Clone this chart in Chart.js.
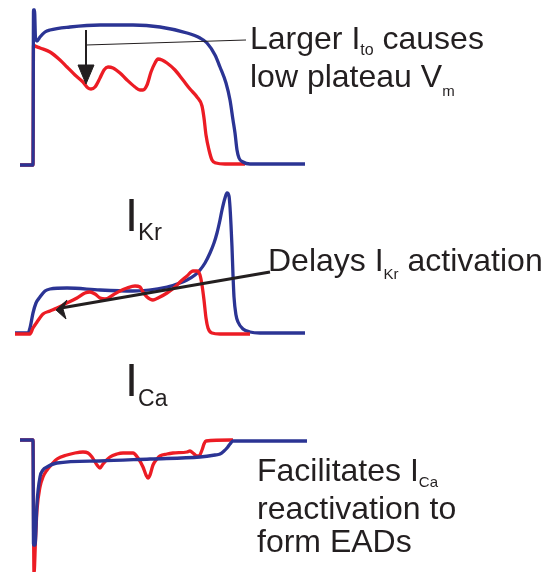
<!DOCTYPE html>
<html>
<head>
<meta charset="utf-8">
<script src="https://cdn.jsdelivr.net/npm/chart.js@4/dist/chart.umd.min.js"></script>
<style>
  body { margin: 0; background: #fff; }
  #wrap { position: relative; width: 560px; height: 572px; overflow: hidden; }
  #fig { position: absolute; left: 0; top: 0; }
  .txt { position: absolute; color: #231f20; font-family: "Liberation Sans", Arial, sans-serif; white-space: nowrap; }
  .sub { position: relative; }
</style>
</head>
<body>
<div id="wrap">
  <canvas id="fig" width="560" height="572"></canvas>
  <div class="txt" style="left:250px; top:22px; font-size:32px; line-height:33px;">Larger I<span class="sub" style="font-size:16px; top:6px;">to</span> causes<br>low plateau V<span class="sub" style="font-size:15px; top:9px;">m</span></div>
  <div class="txt" style="left:125px; top:191px; font-size:47px; line-height:47px;">I<span class="sub" style="font-size:24px; top:9px;">Kr</span></div>
  <div class="txt" style="left:268px; top:244px; font-size:32px; line-height:33px;">Delays I<span class="sub" style="font-size:15px; top:8px;">Kr</span> activation</div>
  <div class="txt" style="left:125px; top:356px; font-size:47px; line-height:47px;">I<span class="sub" style="font-size:23px; top:10px;">Ca</span></div>
  <div class="txt" style="left:257px; top:454px; font-size:32px; line-height:33px;">Facilitates I<span class="sub" style="font-size:15px; top:6px;">Ca</span><br>reactivation to<br>form EADs</div>
</div>
<script>
/*
Traces: time (arbitrary units) and height above each panel's resting line
*/
const apTimeCtl = [20,33,33.5,34.5,35.5,37,40,45,50,70,100,133,160,187,200,207,215,220,226,230,233,235,237,239,243,250,305];
const apCtl     = [0,0,155,155,127,124,128,133,135,138,140,140,138,132,127,122,110,98,82,65,45,32,15,7,3,1,1];
const apTimeMut = [20,33,33.5,35,40,50,60,67,75,83,88,91,95,100,104,108,113,120,127,135,140,143,147,151,155,158,162,167,175,183,190,197,202,204,206,209,212,216,225,245];
const apMut     = [0,0,120,119,117,113,105,98,90,83,77,76,78,87,95,98,97,92,85,78,75,75,80,93,102,106,105,102,95,85,76,68,59,47,30,15,5,2,1,1];

const ikrTimeCtl = [15,28,30,33,36,40,45,50,67,100,133,167,180,187,195,200,205,210,214,217,220,222,225,227,229,230,231,232,233,234,236,238,243,250,260,305];
const ikrCtl     = [1,1,6,21,31,37,43,45,46,44,43,47,51,54,59,64,71,81,91,101,114,124,136,141,138,127,109,87,59,37,19,12,5,2,1,1];
const ikrTimeMut = [15,30,33,37,43,50,57,65,77,85,90,95,100,105,113,120,127,135,140,143,147,153,158,167,175,180,187,193,197,200,202,204,206,208,212,220,250];
const ikrMut     = [0,0,6,12,20,23,26,30,36,41,42,40,36,35,39,43,46,48,47,42,37,34,36,41,47,52,58,63,63,59,49,34,16,6,1,0,0];

const icaTimeCtl = [20,33,33.5,35,37,40,43,47,57,100,150,200,215,220,224,227,230,233,307];
const icaCtl     = [0,0,-105,-105,-63,-37,-30,-27,-23,-21,-19,-17,-15,-14,-11,-8,-4,-1,-1];
const icaTimeMut = [20,33,34,35.5,37,40,43,47,52,57,67,75,83,88,92,97,100,103,110,117,123,133,138,143,146,148,150,153,157,160,167,173,187,190,193,197,199,202,204,206,233];
const icaMut     = [0,0,-134,-100,-70,-47,-37,-30,-24,-19,-15,-13,-12,-13,-17,-25,-28,-24,-17,-14,-13,-13,-18,-27,-35,-38,-35,-25,-19,-16,-14,-13,-12,-11,-13,-16,-16,-10,-4,-1,0];

// annotation arrows (same units as the panel they sit in)
const arrow1Shaft = [[86,135],[86,97]];
const arrow1Head = [[78,100],[94,100],[86,81],[78,100]];
const leader1 = [[86,120],[246,125]];
const arrow2Shaft = [[270,62],[61,26]];
const arrow2Head = [[56,24],[67,34],[63,25],[66,15],[56,24]];

// resting level of each panel on the shared vertical scale
const panelBase = { ap: 407, ikr: 238, ica: 132 };

const BLUE = "#2b3494";
const RED = "#ec1c24";
const INK = "#231f20";

function trace(times, vals, base, color, order) {
    return {
        data: times.map((t, i) => ({ x: t, y: base + vals[i] })),
        borderColor: color,
        borderWidth: 3.3,
        pointRadius: 0,
        fill: false,
        cubicInterpolationMode: "monotone",
        order: order,
    };
}

function mark(pts, base, width, filled) {
    return {
        data: pts.map(p => ({ x: p[0], y: base + p[1] })),
        borderColor: INK,
        backgroundColor: INK,
        borderWidth: width,
        pointRadius: 0,
        tension: 0,
        fill: filled ? "shape" : false,
        borderJoinStyle: "miter",
        order: 0,
    };
}

const datasets = [
    trace(apTimeCtl, apCtl, panelBase.ap, BLUE, 1),
    trace(apTimeMut, apMut, panelBase.ap, RED, 2),
    trace(ikrTimeCtl, ikrCtl, panelBase.ikr, BLUE, 2),
    trace(ikrTimeMut, ikrMut, panelBase.ikr, RED, 1),
    trace(icaTimeCtl, icaCtl, panelBase.ica, BLUE, 1),
    trace(icaTimeMut, icaMut, panelBase.ica, RED, 2),
    mark(arrow1Shaft, panelBase.ap, 2, false),
    mark(arrow1Head, panelBase.ap, 1, true),
    mark(leader1, panelBase.ap, 1.2, false),
    mark(arrow2Shaft, panelBase.ikr, 3.2, false),
    mark(arrow2Head, panelBase.ikr, 1, true),
];

new Chart(document.getElementById("fig"), {
    type: "line",
    data: { datasets: datasets },
    options: {
        responsive: false,
        animation: false,
        layout: { padding: 0 },
        plugins: { legend: { display: false }, tooltip: { enabled: false } },
        scales: {
            x: { type: "linear", min: 0, max: 560, display: false },
            y: { type: "linear", min: 0, max: 572, display: false },
        },
    },
});
</script>
</body>
</html>
